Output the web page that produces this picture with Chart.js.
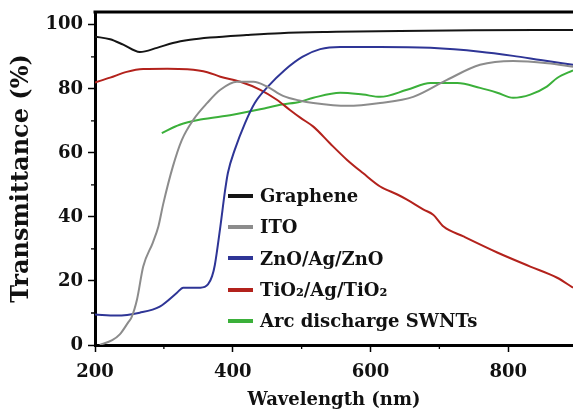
<!DOCTYPE html>
<html>
<head>
<meta charset="utf-8">
<script src="https://cdn.jsdelivr.net/npm/chart.js@4/dist/chart.umd.min.js"></script>
<style>
    body { margin: 0; background: #fff; }
    #wrap { position: relative; width: 573px; height: 412px; }
    #legend { position: absolute; left: 228px; top: 180px; font: bold 18px "DejaVu Serif"; color: #111; }
    .row { height: 31.3px; display: flex; align-items: center; white-space: nowrap; }
    .sw { width: 25px; height: 4px; margin-right: 7px; }
</style>
</head>
<body>
<div id="wrap">
    <canvas id="chart" width="573" height="412"></canvas>
    <div id="legend"></div>
</div>
<script>
// Wavelength (nm) / transmittance (%)
const grapheneX = [200, 222, 241, 265, 290, 313, 338, 367, 420, 469, 550, 643, 750, 894];
const grapheneY = [96.3, 95.5, 93.8, 91.5, 92.8, 94.3, 95.3, 96.0, 96.8, 97.4, 97.8, 98.1, 98.3, 98.4];

const itoX = [207, 225, 236, 248, 253, 261, 270, 284, 292, 299, 313, 326, 343, 363, 382, 406, 430, 450, 473, 498, 517, 566, 614, 662, 711, 759, 807, 857, 894];
const itoY = [0, 1.5, 3.3, 7, 8.6, 14.2, 24.5, 32, 37, 44, 55.7, 64, 70.4, 75.6, 79.7, 82.2, 82.2, 80.7, 77.8, 76.3, 75.6, 74.7, 75.6, 77.5, 82.8, 87.5, 88.7, 88, 86.9];

const znoX = [200, 231, 265, 294, 319, 328, 353, 364, 370, 374, 382, 389, 393, 403, 418, 432, 451, 476, 501, 527, 556, 614, 687, 759, 807, 847, 894];
const znoY = [9.5, 9.2, 10.1, 12, 16.3, 17.9, 17.9, 18.9, 21.5, 25, 37, 48.5, 53.8, 61, 69.4, 75.6, 80.7, 86, 90, 92.4, 93.1, 93.1, 92.8, 91.6, 90.3, 89, 87.5];

const tioX = [200, 222, 246, 270, 305, 334, 363, 382, 411, 440, 464, 483, 498, 517, 541, 566, 589, 614, 639, 653, 677, 691, 706, 735, 784, 832, 871, 894];
const tioY = [82, 83.5, 85.3, 86.2, 86.3, 86.1, 85.2, 83.8, 82.2, 79.7, 76.6, 73.4, 71, 68.2, 63, 57.8, 53.7, 49.5, 47, 45.4, 42.3, 40.7, 37, 33.9, 28.9, 24.5, 21, 17.9];

const swntX = [297, 323, 353, 400, 450, 469, 498, 517, 556, 589, 614, 653, 687, 726, 759, 784, 807, 832, 856, 871, 894];
const swntY = [66.2, 68.8, 70.4, 71.9, 74.1, 75, 76, 77.2, 78.8, 78.2, 77.5, 79.7, 81.8, 81.8, 80.3, 78.8, 77.2, 78.2, 80.7, 83.4, 85.8];

const seriesNames = ['Graphene', 'ITO', 'ZnO/Ag/ZnO', 'TiO₂/Ag/TiO₂', 'Arc discharge SWNTs'];
const seriesColors = ['#151515', '#8c8c8c', '#2e3596', '#b3221c', '#3bb03a'];
const xTickLabels = [200, 400, 600, 800];
const yTickLabels = [0, 20, 40, 60, 80, 100];

const toPoints = (xs, ys) => xs.map((x, i) => ({ x: x, y: ys[i] }));
const allData = [
    toPoints(grapheneX, grapheneY),
    toPoints(itoX, itoY),
    toPoints(znoX, znoY),
    toPoints(tioX, tioY),
    toPoints(swntX, swntY)
];

const FONT = 'DejaVu Serif';

// top frame line + short minor ticks
const framePlugin = {
    id: 'frame',
    afterDraw(chart) {
        const ctx = chart.ctx;
        const a = chart.chartArea;
        const xs = chart.scales.x, ys = chart.scales.y;
        ctx.save();
        ctx.strokeStyle = '#000';
        ctx.lineWidth = 3;
        ctx.beginPath();
        ctx.moveTo(a.left - 1.5, a.top);
        ctx.lineTo(a.right, a.top);
        ctx.stroke();
        ctx.lineWidth = 1.3;
        ctx.beginPath();
        [300, 500, 700].forEach(v => {
            const px = xs.getPixelForValue(v);
            ctx.moveTo(px, a.bottom);
            ctx.lineTo(px, a.bottom + 4);
        });
        [10, 30, 50, 70, 90].forEach(v => {
            const py = ys.getPixelForValue(v);
            ctx.moveTo(a.left, py);
            ctx.lineTo(a.left - 4, py);
        });
        ctx.stroke();
        ctx.restore();
    }
};

new Chart(document.getElementById('chart').getContext('2d'), {
    type: 'line',
    data: {
        datasets: allData.map((d, i) => ({
            label: seriesNames[i],
            data: d,
            borderColor: seriesColors[i],
            borderWidth: 2,
            pointRadius: 0,
            fill: false,
            cubicInterpolationMode: 'monotone'
        }))
    },
    options: {
        responsive: false,
        animation: false,
        layout: { padding: { top: 12, right: 0, left: 0, bottom: 0 } },
        plugins: { legend: { display: false }, tooltip: { enabled: false } },
        scales: {
            x: {
                type: 'linear', min: 200, max: 894,
                afterBuildTicks: s => { s.ticks = xTickLabels.map(v => ({ value: v })); },
                afterFit: s => { s.height = 67; s.paddingRight = 0; },
                ticks: { color: '#111', padding: 10, maxRotation: 0, autoSkip: false, font: { family: FONT, size: 18, weight: 'bold' } },
                grid: { drawOnChartArea: false, tickLength: 7, tickWidth: 1.5, tickColor: '#000' },
                border: { display: true, width: 3, color: '#000' },
                title: { display: true, text: 'Wavelength (nm)', color: '#111', padding: { top: 0, bottom: 1 }, font: { family: FONT, size: 18, weight: 'bold' } }
            },
            y: {
                min: 0, max: 104,
                afterBuildTicks: s => { s.ticks = yTickLabels.map(v => ({ value: v })); },
                afterFit: s => { s.width = 95; s.paddingTop = 0; s.paddingBottom = 0; },
                ticks: { color: '#111', padding: 5, autoSkip: false, font: { family: FONT, size: 18, weight: 'bold' } },
                grid: { drawOnChartArea: false, tickLength: 7, tickWidth: 1.5, tickColor: '#000' },
                border: { display: true, width: 3, color: '#000' },
                title: { display: true, text: 'Transmittance (%)', color: '#111', padding: { top: 7, bottom: 0 }, font: { family: FONT, size: 24, weight: 'bold' } }
            }
        }
    },
    plugins: [framePlugin]
});

// legend inside plot area
document.getElementById('legend').innerHTML = seriesNames.map((n, i) => `
    <div class="row"><span class="sw" style="background:${seriesColors[i]}"></span>${n}</div>
`).join('');
</script>
</body>
</html>
